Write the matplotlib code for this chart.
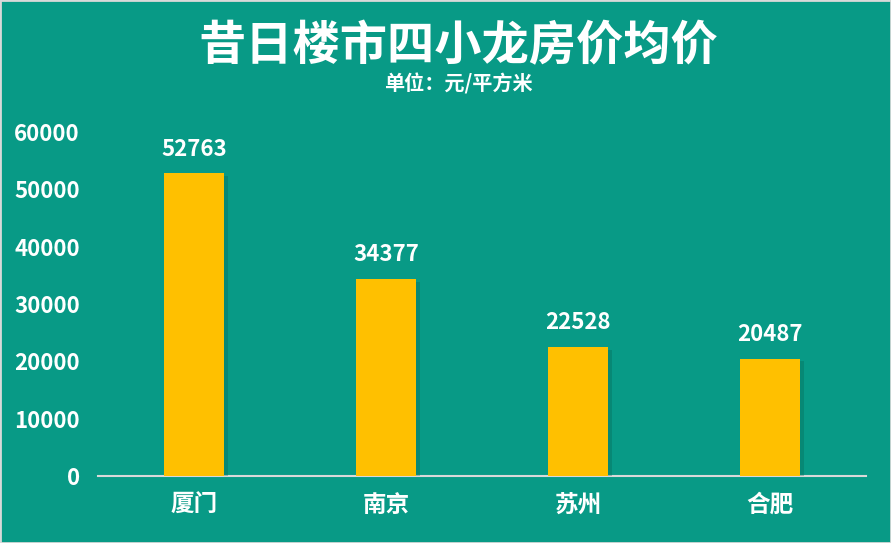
import matplotlib.pyplot as plt
import matplotlib.patheffects as pe

plt.rcParams['font.family'] = ['Noto Sans CJK SC', 'DejaVu Sans']

cities = ['厦门', '南京', '苏州', '合肥']
prices = [52763, 34377, 22528, 20487]
yticks = [0, 10000, 20000, 30000, 40000, 50000, 60000]

bg = '#089A86'
fig = plt.figure(figsize=(8.91, 5.43), dpi=100, facecolor=bg)
ax = fig.add_axes([0.110, 0.1234, 0.862, 0.6335])
ax.set_facecolor(bg)

bars = ax.bar(range(len(cities)), prices, width=0.31, color='#FFC000', zorder=3)
for b in bars:
    b.set_path_effects([pe.SimplePatchShadow(offset=(3, -2), shadow_rgbFace='#05614f', alpha=0.3), pe.Normal()])

for i, v in enumerate(prices):
    ax.annotate(str(v), (i, v), xytext=(0, 9), textcoords='offset points',
                ha='center', va='bottom', color='white', fontsize=16, fontweight='bold')

ax.set_xlim(-0.5, len(cities) - 0.5)
ax.set_ylim(0, 60000)
ax.set_yticks(yticks)
ax.set_yticklabels([str(t) for t in yticks], color='white', fontsize=16, fontweight='bold')
ax.set_xticks(range(len(cities)))
ax.set_xticklabels(cities, color='white', fontsize=17, fontweight='bold')
ax.tick_params(axis='y', length=0, pad=13)
ax.tick_params(axis='x', length=0, pad=12)

for s in ['top', 'right', 'left']:
    ax.spines[s].set_visible(False)
ax.spines['bottom'].set_color('#D9D9D9')
ax.spines['bottom'].set_linewidth(1.5)

fig.text(0.514, 0.915, '昔日楼市四小龙房价均价', ha='center', va='center',
         color='white', fontsize=34, fontweight='bold')
fig.text(0.514, 0.846, '单位：元/平方米', ha='center', va='center',
         color='white', fontsize=14.5, fontweight='bold')

fig.patches.append(plt.Rectangle((0, 0), 1, 1, transform=fig.transFigure,
                                 fill=False, edgecolor='#D9D9D9', linewidth=2))

fig.savefig('out.png', dpi=100, facecolor=bg)
